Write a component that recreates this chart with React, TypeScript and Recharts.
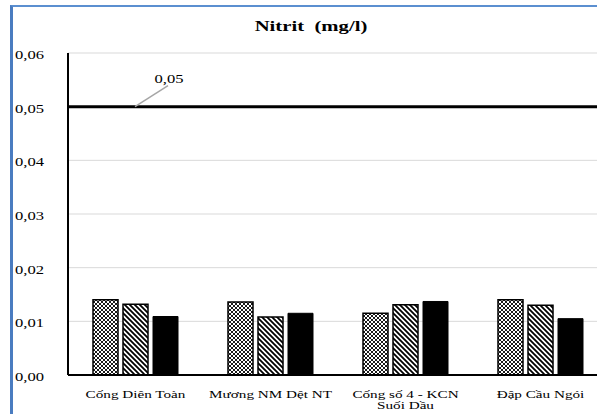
import React from 'react';
import { BarChart, Bar, XAxis, YAxis, CartesianGrid, ReferenceLine } from 'recharts';

const categories = ['Cống Diên Toàn', 'Mương NM Dệt NT', 'Cống số 4 - KCN Suối Dầu', 'Đập Cầu Ngói'];
const series1 = [0.014, 0.0136, 0.0115, 0.014];
const series2 = [0.0132, 0.0108, 0.0131, 0.013];
const series3 = [0.0109, 0.0115, 0.0137, 0.0105];
const yTicks = [0, 0.01, 0.02, 0.03, 0.04, 0.05, 0.06];
const limitValue = 0.05;
const title = 'Nitrit  (mg/l)';

const data = categories.map((name, i) => ({ name, s1: series1[i], s2: series2[i], s3: series3[i] }));

const FONT = 'Liberation Serif, Tinos, Times New Roman, DejaVu Serif, serif';
const SX = 1.38;

const fmt = (v: number) => v.toFixed(2).replace('.', ',');

const YTick = (props: any) => {
  const { y, payload } = props;
  return (
    <text
      transform={`translate(15, ${y + 6}) scale(${SX}, 1)`}
      x={0}
      y={0}
      textAnchor="start"
      style={{ fontFamily: FONT }}
      fontSize={12}
      fill="#000"
    >
      {fmt(payload.value)}
    </text>
  );
};

const wrap = (s: string, max: number) => {
  const words = s.split(' ');
  const lines: string[] = [];
  let cur = '';
  for (const w of words) {
    const next = cur ? cur + ' ' + w : w;
    if (next.length > max && cur) {
      lines.push(cur);
      cur = w;
    } else cur = next;
  }
  if (cur) lines.push(cur);
  return lines;
};

const XTick = (props: any) => {
  const { x, y, payload } = props;
  const lines = wrap(payload.value, 16);
  return (
    <g>
      {lines.map((l, i) => (
        <text
          key={i}
          transform={`translate(${x}, ${y + 15 + i * 11}) scale(${SX}, 1)`}
          x={0}
          y={0}
          textAnchor="middle"
          style={{ fontFamily: FONT }}
          fontSize={11}
          fill="#000"
        >
          {l}
        </text>
      ))}
    </g>
  );
};

const RefLabel = (props: any) => {
  const vb = props.viewBox || {};
  const x0 = vb.x + 67;
  const y0 = vb.y;
  return (
    <g>
      <line x1={x0} y1={y0} x2={x0 + 33} y2={y0 - 21} stroke="#a6a6a6" strokeWidth={1.5} />
      <text
        transform={`translate(${x0 + 34}, ${y0 - 24}) scale(${SX}, 1)`}
        x={0}
        y={0}
        textAnchor="middle"
        style={{ fontFamily: FONT }}
        fontSize={12}
        fill="#000"
      >
        {fmt(limitValue)}
      </text>
    </g>
  );
};

export default function App() {
  return (
    <div style={{ position: 'absolute', left: 0, top: 0, width: 620, height: 420, background: '#fff', overflow: 'hidden' }}>
      <div
        style={{
          position: 'absolute',
          left: 10,
          top: 5,
          width: 700,
          height: 500,
          borderLeft: '3px solid #4a7cc0',
          borderTop: '2px solid #5b8fd0',
          boxSizing: 'border-box',
        }}
      />
      <div
        style={{
          position: 'absolute',
          left: 161,
          top: 19,
          width: 300,
          textAlign: 'center',
          fontFamily: FONT,
          fontWeight: 'bold',
          fontSize: 15,
          lineHeight: '15px',
          transform: `scaleX(${SX})`,
          whiteSpace: 'pre',
        }}
      >
        {title}
      </div>
      <div style={{ position: 'absolute', left: 0, top: 0 }}>
        <BarChart
          width={620}
          height={420}
          data={data}
          margin={{ top: 53, right: 12, bottom: 5, left: 0 }}
          barSize={25}
          barGap={5}
        >
          <defs>
            <pattern id="patA" patternUnits="userSpaceOnUse" width={4} height={4}>
              <rect x={0} y={0} width={4} height={4} fill="#fff" />
              <path d="M0,0 L4,4 M4,0 L0,4" stroke="#000" strokeWidth={0.9} />
            </pattern>
            <pattern id="patB" patternUnits="userSpaceOnUse" width={5} height={5}>
              <rect x={0} y={0} width={5} height={5} fill="#fff" />
              <path d="M-1,-1 L6,6 M-1,4 L1,6 M4,-1 L6,1" stroke="#000" strokeWidth={1.8} />
            </pattern>
          </defs>
          <CartesianGrid vertical={false} stroke="#d9d9d9" />
          <XAxis
            dataKey="name"
            tickLine={false}
            axisLine={{ stroke: '#000', strokeWidth: 2 }}
            tick={<XTick />}
            height={40}
            interval={0}
          />
          <YAxis
            domain={[0, 0.06]}
            ticks={yTicks}
            tickLine={false}
            axisLine={{ stroke: '#000', strokeWidth: 2 }}
            tick={<YTick />}
            width={68}
          />
          <ReferenceLine y={limitValue} stroke="#000" strokeWidth={3} label={<RefLabel />} />
          <Bar dataKey="s1" fill="url(#patA)" stroke="#000" strokeWidth={1.5} isAnimationActive={false} />
          <Bar dataKey="s2" fill="url(#patB)" stroke="#000" strokeWidth={1.5} isAnimationActive={false} />
          <Bar dataKey="s3" fill="#000" stroke="#000" strokeWidth={1} isAnimationActive={false} />
        </BarChart>
      </div>
    </div>
  );
}
